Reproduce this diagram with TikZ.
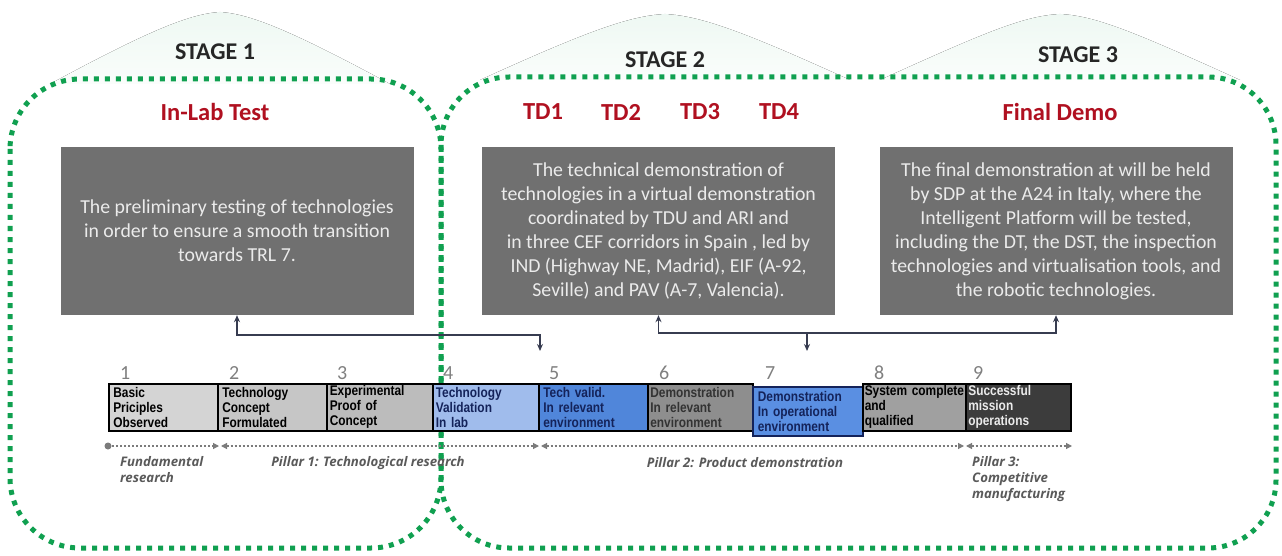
\documentclass[tikz,border=0pt]{standalone}
\usepackage{fontspec}
\setmainfont{Carlito}
\newfontfamily\narrowfont[FakeStretch=0.85]{Liberation Sans}
\newfontfamily\pillarfont{Open Sans}
\usetikzlibrary{arrows.meta}
\definecolor{stagegreen}{RGB}{16,160,80}
\definecolor{darkred}{RGB}{176,16,32}
\definecolor{boxgray}{RGB}{112,112,112}
\definecolor{conncol}{RGB}{55,60,80}
\definecolor{numgray}{RGB}{128,128,128}
\definecolor{pilgray}{RGB}{90,90,90}
\definecolor{navy}{RGB}{20,35,90}
\definecolor{trlA}{RGB}{212,212,212}
\definecolor{trlB}{RGB}{198,198,198}
\definecolor{trlC}{RGB}{188,188,188}
\definecolor{trlD}{RGB}{160,188,236}
\definecolor{trlE}{RGB}{80,134,218}
\definecolor{trlF}{RGB}{142,142,142}
\definecolor{trlG}{RGB}{90,143,226}
\definecolor{trlH}{RGB}{160,160,160}
\definecolor{trlI}{RGB}{60,60,60}
\tikzset{
  stageline/.style={draw=stagegreen, line width=5pt, dash pattern=on 5pt off 6pt},
  halo/.style={top color=stagegreen!7, bottom color=stagegreen!2, draw=none},
  stagetitle/.style={font=\fontsize{24}{28}\selectfont\bfseries, text=black!85},
  redtitle/.style={font=\fontsize{24.5}{28}\selectfont\bfseries, text=darkred},
  graybox/.style={fill=boxgray, draw=none, text=white!92!black, align=center,
    minimum width=353pt, minimum height=168pt, inner sep=0pt,
    font=\fontsize{19.8}{24}\selectfont},
  trl/.style={draw=black, line width=1.6pt, anchor=north west, align=left,
    minimum height=47pt, text width=100pt, inner xsep=2pt, inner ysep=0pt,
    font=\fontsize{14}{15}\selectfont\narrowfont\bfseries},
  trlnum/.style={font=\fontsize{20}{20}\selectfont, text=numgray, anchor=south west, inner sep=0pt},
  conn/.style={draw=conncol, line width=1.3pt},
  tip/.style={-{Stealth[length=7pt,width=6pt]}},
  pline/.style={draw=pilgray!80, line width=1.2pt, dash pattern=on 2pt off 2pt},
  ptip/.style={{Triangle[length=6pt,width=6pt,fill=pilgray!80]}-{Triangle[length=6pt,width=6pt,fill=pilgray!80]}},
  pillar/.style={font=\fontsize{13.2}{16}\selectfont\pillarfont\bfseries\itshape, text=pilgray, inner sep=0pt}
}
\begin{document}
\begin{tikzpicture}[x=1pt,y=-1pt]
\useasboundingbox[fill=white] (0,0) rectangle (1282,556);

% halos
\fill[halo] (50,84) .. controls (150,30) and (190,14) .. (220,12) .. controls (250,14) and (290,30) .. (390,84) -- cycle;
\fill[halo] (480,80) .. controls (590,30) and (630,16) .. (665,14) .. controls (700,16) and (740,30) .. (850,80) -- cycle;
\fill[halo] (880,80) .. controls (990,30) and (1025,16) .. (1060,14) .. controls (1095,16) and (1130,30) .. (1240,80) -- cycle;

% stage frames
\draw[stageline, rounded corners=70pt] (10,79) rectangle (441,548);
\draw[stageline, rounded corners=68pt] (441,77) rectangle (1276,548);

% titles
\node[stagetitle] (s1) at (215,52) {STAGE 1};
\node[stagetitle] (s2) at (665,60) {STAGE 2};
\node[stagetitle] (s3) at (1078,55) {STAGE 3};
\node[redtitle] (r1) at (215,112) {In-Lab Test};
\node[redtitle] (td1) at (543,112) {TD1};
\node[redtitle] (td2) at (621,112) {TD2};
\node[redtitle] (td3) at (700,112) {TD3};
\node[redtitle] (td4) at (779,112) {TD4};
\node[redtitle] (r3) at (1060,112) {Final Demo};

% gray boxes
\node[graybox] (g1) at (237,231) {The preliminary testing of technologies\\in order to ensure a smooth transition\\towards TRL 7.};
\node[graybox] (g2) at (658.5,231) {The technical demonstration of\\technologies in a virtual demonstration\\coordinated by TDU and ARI and\\in three CEF corridors in Spain , led by\\IND (Highway NE, Madrid), EIF (A-92,\\Seville) and PAV (A-7, Valencia).};
\node[graybox] (g3) at (1056,231) {The final demonstration at will be held\\by SDP at the A24 in Italy, where the\\Intelligent Platform will be tested,\\including the DT, the DST, the inspection\\technologies and virtualisation tools, and\\the robotic technologies.};

% TRL boxes
\node[trl, fill=trlA, minimum width=109pt] (t1) at (108,383) {Basic\\Priciples\\Observed};
\node[trl, fill=trlB, minimum width=109pt] (t2) at (217,383) {Technology\\Concept\\Formulated};
\node[trl, fill=trlC, minimum width=106pt] (t3) at (326,383) {Experimental\\Proof of\\Concept};
\node[trl, fill=trlD, minimum width=106pt, text=navy] (t4) at (432,383) {Technology\\Validation\\In lab};
\node[trl, fill=trlE, minimum width=109pt, text=navy] (t5) at (538,383) {Tech valid.\\In relevant\\environment};
\node[trl, fill=trlF, minimum width=105pt, text=black!80] (t6) at (647,383) {Demonstration\\In relevant\\environment};
\node[trl, fill=trlG, minimum width=110pt, minimum height=49pt, text=navy, draw=navy] (t7) at (752,386) {Demonstration\\In operational\\environment};
\node[trl, fill=trlH, minimum width=103pt] (t8) at (862,383) {System complete\\and\\qualified};
\node[trl, fill=trlI, minimum width=105pt, text=white!92!black] (t9) at (965,383) {Successful\\mission\\operations};

% numbers
\node[trlnum] (n1) at (120,380) {1};
\node[trlnum] (n2) at (229,380) {2};
\node[trlnum] (n3) at (337,380) {3};
\node[trlnum] (n4) at (443,380) {4};
\node[trlnum] (n5) at (549,380) {5};
\node[trlnum] (n6) at (659,380) {6};
\node[trlnum] (n7) at (765,380) {7};
\node[trlnum] (n8) at (874,380) {8};
\node[trlnum] (n9) at (973,380) {9};

% connectors
\coordinate (h1) at (0,335);
\coordinate (a1) at (540,351);
\coordinate (h2) at (0,333);
\coordinate (a2) at (807,351);
\coordinate (b2) at (807,333);
\draw[conn, tip] (a1 |- h1) -| (g1.south);
\draw[conn, tip] (g1.south |- h1) -| (a1);
\draw[conn, tip] (g3.south |- h2) -| (g2.south);
\draw[conn, tip] (g2.south |- h2) -| (g3.south);
\draw[conn, tip] (b2) -- (a2);

% pillar line
\coordinate (p0) at (108,446);
\coordinate (p1a) at (219,446);
\coordinate (p1b) at (221,446);
\coordinate (p2a) at (539,446);
\coordinate (p2b) at (541,446);
\coordinate (p3a) at (964,446);
\coordinate (p3b) at (966,446);
\coordinate (p4) at (1072,446);
\fill[pilgray!80] (p0) circle (3.5pt);
\draw[pline, -{Triangle[length=6pt,width=6pt]}] (p0) -- (p1a);
\draw[pline, ptip] (p1b) -- (p2a);
\draw[pline, ptip] (p2b) -- (p3a);
\draw[pline, {Triangle[length=6pt,width=6pt]}-{Triangle[length=6pt,width=6pt]}] (p3b) -- (p4);

% pillar labels
\node[pillar, align=left, anchor=north west] (f1) at (120,456) {Fundamental\\research};
\node[pillar] (pl1) at (368,463) {Pillar 1: Technological research};
\node[pillar] (pl2) at (745,463) {Pillar 2: Product demonstration};
\node[pillar, align=left, anchor=north west] (pl3) at (972,456) {Pillar 3:\\Competitive\\manufacturing};
\end{tikzpicture}
\end{document}
